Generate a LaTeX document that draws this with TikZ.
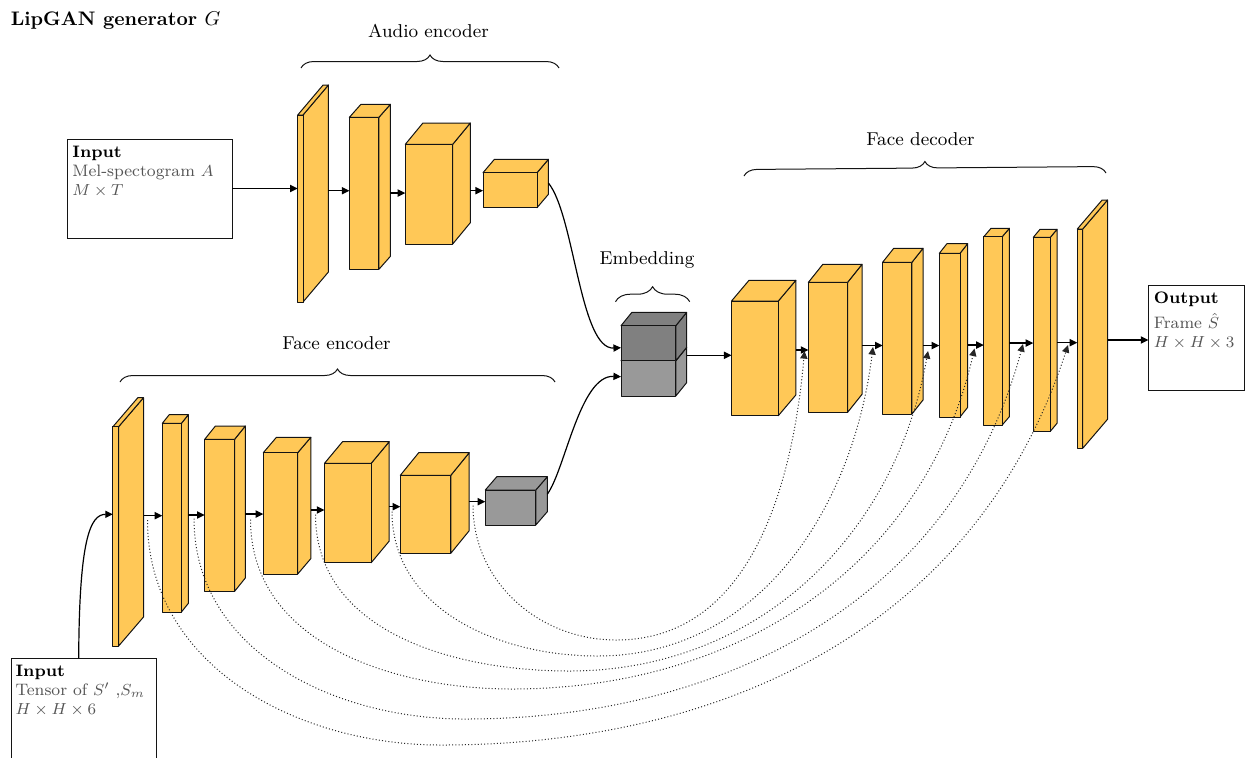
\documentclass[tikz,border=0pt]{standalone}
\usetikzlibrary{arrows.meta,decorations.pathreplacing,calc}

\definecolor{layerfill}{RGB}{255,200,87}
\definecolor{embdark}{RGB}{128,128,128}
\definecolor{emblight}{RGB}{153,153,153}
\definecolor{subtext}{RGB}{85,85,85}
\definecolor{edge}{RGB}{20,20,20}

\tikzset{
  faceline/.style={draw=edge, line width=0.5pt, line join=round},
  frontface/.style={faceline, rectangle, inner sep=0pt, outer sep=0pt, anchor=north west},
  flow/.style={draw=black, line width=0.6pt, -{Triangle[length=3.8pt,width=3.6pt]}},
  skip/.style={draw=black!85, line width=0.5pt, dash pattern=on 0.5pt off 1.1pt,
    -{Triangle[length=3.8pt,width=3.6pt]}},
  iobox/.style={draw=edge, line width=0.5pt, rectangle, inner sep=0pt, outer sep=0pt, anchor=north west},
  boxtext/.style={inner sep=0pt, anchor=north west, align=left, font=\fontsize{8.3}{9.5}\selectfont},
  grouplabel/.style={inner sep=0pt, anchor=base, font=\fontsize{9.3}{11}\selectfont},
  groupbrace/.style={draw=edge, line width=0.5pt, decorate, decoration={brace, amplitude=#1}},
  groupbrace/.default=6.5pt,
}

% layer block: name, front x1, y1, x2, y2, depth dx, depth dy, colour
\newcommand\layerbox[8]{%
  \filldraw[faceline, fill=#8] (#4,#3) -- ++(#6,-#7) -- ++(0,#5-#3) -- (#4,#5) -- cycle;
  \filldraw[faceline, fill=#8] (#2,#3) -- ++(#6,-#7) -- ++(#4-#2,0) -- (#4,#3) -- cycle;
  \node[frontface, fill=#8, minimum width={(#4-#2)*0.5pt}, minimum height={(#5-#3)*0.5pt}] (#1) at (#2,#3) {};
  \coordinate (#1-r) at ({#4+#6},{(#3+#5)/2-#7});
}

\begin{document}
\begin{tikzpicture}[x=0.5pt,y=-0.5pt]
\useasboundingbox (0,0) rectangle (1245,757);
\clip (0,0) rectangle (1245,757);

% title
\node[anchor=base west, inner sep=0pt, font=\fontsize{9.8}{12}\selectfont\bfseries] (title) at (10.5,25) {LipGAN generator $G$};

% audio encoder
\layerbox{a1}{297.7}{115}{303}{302}{25.4}{30}{layerfill}
\layerbox{a2}{349.4}{117.3}{378.9}{269.3}{11.5}{13}{layerfill}
\layerbox{a3}{405.3}{144.3}{452.7}{244}{17.6}{21.3}{layerfill}
\layerbox{a4}{483}{172.7}{537}{207.7}{11.4}{13.4}{layerfill}

% face encoder
\layerbox{e1}{112.9}{426.7}{118.6}{646}{24.9}{29}{layerfill}
\layerbox{e2}{162.3}{423.3}{181.4}{612}{6.9}{8.6}{layerfill}
\layerbox{e3}{204.7}{439.3}{234.6}{591.3}{10.7}{13.3}{layerfill}
\layerbox{e4}{263.3}{452.7}{297.7}{574}{13.1}{15.4}{layerfill}
\layerbox{e5}{324.5}{463.3}{371.2}{562.7}{18}{21.6}{layerfill}
\layerbox{e6}{400.3}{475.3}{450.8}{553.3}{18.4}{22.6}{layerfill}
\layerbox{e7}{485.3}{490}{535.8}{525}{11.5}{13.3}{emblight}

% embedding
\layerbox{emb2}{621}{360.7}{675.8}{396}{10.8}{13.3}{emblight}
\layerbox{emb1}{621}{325.7}{675.8}{360.7}{10.8}{13.3}{embdark}

% face decoder
\layerbox{d1}{731.5}{301}{778.3}{415.7}{17.5}{20.7}{layerfill}
\layerbox{d2}{808.4}{282.3}{847.6}{412.3}{14.4}{18}{layerfill}
\layerbox{d3}{882.6}{262.3}{911.9}{414}{11.1}{14}{layerfill}
\layerbox{d4}{939.3}{253.3}{960}{417}{7.6}{9.6}{layerfill}
\layerbox{d5}{983.8}{236.7}{1002.2}{425}{7.2}{8.4}{layerfill}
\layerbox{d6}{1033.3}{237.3}{1050.3}{431.3}{6.7}{8}{layerfill}
\layerbox{d7}{1077.3}{229}{1082.7}{448.3}{24.8}{29}{layerfill}

% input / output boxes
\node[iobox, minimum width=82.65pt, minimum height=49.5pt] (in1) at (67,139) {};
\node[boxtext] (in1t) at ($(in1.north west)+(5,6.5)$)
  {\textbf{Input}\\\textcolor{subtext}{Mel-spectogram $A$}\\\textcolor{subtext}{$M\times T$}};
\node[iobox, minimum width=72.15pt, minimum height=60pt] (in2) at (11.7,658.3) {};
\node[boxtext] (in2t) at ($(in2.north west)+(3.5,6.5)$)
  {\textbf{Input}\\\textcolor{subtext}{Tensor of $S'$ ,$S_m$}\\\textcolor{subtext}{$H\times H\times 6$}};
\node[iobox, minimum width=47.8pt, minimum height=52.5pt] (out) at (1148.4,285) {};
\node[boxtext] (outt) at ($(out.north west)+(5,6.5)$)
  {\textbf{Output}\\[3pt]\textcolor{subtext}{Frame $\hat{S}$}\\\textcolor{subtext}{$H\times H\times 3$}};

% group labels and braces
\node[grouplabel] (lblaudio) at (428.5,37.5) {Audio encoder};
\draw[groupbrace] (301,68) -- (559,68);
\node[grouplabel] (lblfenc) at (336.5,349) {Face encoder};
\draw[groupbrace] (120,382) -- (555,382);
\node[grouplabel] (lblemb) at (647,264.5) {Embedding};
\draw[groupbrace=7.5pt] (615.5,301.7) -- (689.7,301.7);
\node[grouplabel] (lblfdec) at (920.4,145.5) {Face decoder};
\draw[groupbrace] (744,176) -- (1106,173);

% audio path
\draw[flow] (in1.east) -- (a1.west |- in1.east);
\draw[flow] (a1-r |- 0,190.7) -- (a2.west |- 0,190.7);
\draw[flow] (a2-r |- 0,193) -- (a3.west |- 0,193);
\draw[flow] (a3-r |- 0,190.7) -- (a4.west |- 0,190.7);
\draw[flow] (a4-r |- 0,183) .. controls +(26,32) and +(-41,2) .. (emb1.west |- 0,347.7);

% face path
\draw[flow] ($(in2.north west)+(67,0)$) .. controls +(0.5,-118) and +(-23,0) .. (e1.west |- 0,514.3);
\draw[flow] (e1-r |- 0,515.7) -- (e2.west |- 0,515.7);
\draw[flow] (e2-r |- 0,515) -- (e3.west |- 0,515);
\draw[flow] (e3-r |- 0,514) -- (e4.west |- 0,514);
\draw[flow] (e4-r |- 0,510) -- (e5.west |- 0,510);
\draw[flow] (e5-r |- 0,506.7) -- (e6.west |- 0,506.7);
\draw[flow] (e6-r |- 0,501.7) -- (e7.west |- 0,501.7);
\draw[flow] (e7-r) .. controls +(18,-25) and +(-41,-2) .. (emb2.west |- 0,376.7);

% decoder path
\draw[flow] (emb2-r |- 0,355.3) -- (d1.west |- 0,355.3);
\draw[flow] (d1-r |- 0,350) -- (d2.west |- 0,350);
\draw[flow] (d2-r |- 0,345.5) -- (d3.west |- 0,345.5);
\draw[flow] (d3-r |- 0,345.5) -- (d4.west |- 0,345.5);
\draw[flow] (d4-r |- 0,345) -- (d5.west |- 0,345);
\draw[flow] (d5-r |- 0,343) -- (d6.west |- 0,343);
\draw[flow] (d6-r |- 0,342.7) -- (d7.west |- 0,342.7);
\draw[flow] (d7-r |- 0,340) -- (out.west |- 0,340);

% skip connections
\coordinate (sk1) at (147.5,520);  \coordinate (lo6) at (441,745); \coordinate (tp6) at (1068,345);
\coordinate (sk2) at (194,518.5);  \coordinate (lo5) at (465,719); \coordinate (tp5) at (1023,344);
\coordinate (sk3) at (250.5,519.5);\coordinate (lo4) at (512,689); \coordinate (tp4) at (974.5,348.5);
\coordinate (sk4) at (315.5,514.5);\coordinate (lo3) at (569,671); \coordinate (tp3) at (928,351);
\coordinate (sk5) at (392,511.5);  \coordinate (lo2) at (597,656); \coordinate (tp2) at (873,347);
\coordinate (sk6) at (473,505.5);  \coordinate (lo1) at (616,640); \coordinate (tp1) at (804.5,351);

\draw[skip] (sk6) to[out=-90,in=180] (lo1) to[out=0,in=-95] (tp1);
\draw[skip] (sk5) to[out=-90,in=180] (lo2) to[out=0,in=-97] (tp2);
\draw[skip] (sk4) to[out=-90,in=180] (lo3) to[out=0,in=-100] (tp3);
\draw[skip] (sk3) to[out=-90,in=180] (lo4) to[out=0,in=-103] (tp4);
\draw[skip] (sk2) to[out=-90,in=180] (lo5) to[out=0,in=-105] (tp5);
\draw[skip] (sk1) to[out=-90,in=180] (lo6) to[out=0,in=-108] (tp6);
\end{tikzpicture}
\end{document}
